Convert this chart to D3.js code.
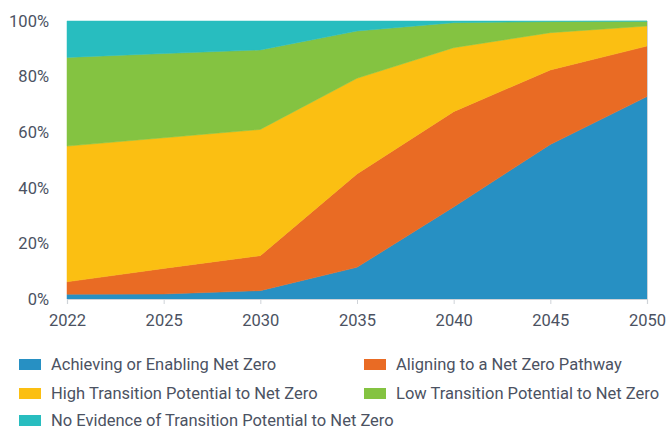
<!DOCTYPE html>
<html>
<head>
<meta charset="utf-8">
<script src="https://cdn.jsdelivr.net/npm/d3@7"></script>
<style>
  body { margin: 0; background: #fff; }
  #chart text { font-family: Roboto, "Open Sans", sans-serif; fill: #4b5262; }
</style>
</head>
<body>
<div id="chart"></div>
<script>
// Data (share of portfolio, %)
const years = ['2022', '2025', '2030', '2035', '2040', '2045', '2050'];
const achieving = [1.7, 1.8, 3.0, 11.4, 33.1, 55.6, 72.8];
const aligning = [4.5, 9.2, 12.6, 33.6, 34.3, 26.8, 18.2];
const highPotential = [48.8, 47.0, 45.4, 34.4, 23.0, 13.4, 7.2];
const lowPotential = [31.9, 30.3, 28.6, 17.0, 9.0, 4.0, 1.7];
const noEvidence = [13.1, 11.7, 10.4, 3.6, 0.6, 0.2, 0.1];
const yTicks = [0, 20, 40, 60, 80, 100];

const seriesNames = [
  'Achieving or Enabling Net Zero',
  'Aligning to a Net Zero Pathway',
  'High Transition Potential to Net Zero',
  'Low Transition Potential to Net Zero',
  'No Evidence of Transition Potential to Net Zero'
];
const seriesValues = [achieving, aligning, highPotential, lowPotential, noEvidence];
const colors = ['#2790c3', '#e96b24', '#fbbf12', '#84c341', '#28bdbf'];

const width = 666;
const height = 430;
const margin = { top: 21, right: 19, bottom: 131, left: 67 };
const graphWidth = width - margin.left - margin.right;
const graphHeight = height - margin.top - margin.bottom;

// Build rows for the stack
const table = years.map((y, i) => {
  const row = { year: y };
  seriesNames.forEach((n, k) => { row[n] = seriesValues[k][i]; });
  return row;
});

const stack = d3.stack().keys(seriesNames).offset(d3.stackOffsetExpand);
const layers = stack(table);

const xScale = d3.scalePoint().domain(years).range([0, graphWidth]);
const yScale = d3.scaleLinear().domain([0, 100]).range([graphHeight, 0]);

const svg = d3.select('#chart')
  .append('svg')
  .attr('width', width)
  .attr('height', height);

const g = svg.append('g')
  .attr('transform', `translate(${margin.left},${margin.top})`);

const area = d3.area()
  .x(d => xScale(d.data.year))
  .y0(d => yScale(d[0] * 100))
  .y1(d => yScale(d[1] * 100));

g.selectAll('.layer')
  .data(layers)
  .enter()
  .append('path')
  .attr('class', 'layer')
  .attr('d', area)
  .attr('fill', (d, i) => colors[i])
  .attr('stroke', (d, i) => colors[i])
  .attr('stroke-width', 0.5);

// right edge line
g.append('line')
  .attr('x1', xScale('2050') + 0.5)
  .attr('x2', xScale('2050') + 0.5)
  .attr('y1', 0)
  .attr('y2', graphHeight)
  .attr('stroke', '#cfd3d8')
  .attr('stroke-width', 1);

// x axis
const xAxis = g.append('g')
  .attr('transform', `translate(0,${graphHeight})`)
  .call(d3.axisBottom(xScale).tickSize(5).tickPadding(10));
xAxis.select('.domain').attr('stroke', '#cfd3d8').attr('stroke-width', 1.2);
xAxis.selectAll('.tick line').attr('stroke', '#cfd3d8');
xAxis.selectAll('.tick text').style('font-size', '16.5px');

// y axis
const yAxis = g.append('g')
  .call(d3.axisLeft(yScale).tickValues(yTicks).tickSize(0).tickPadding(18)
    .tickFormat(d => d + '%'));
yAxis.select('.domain').remove();
yAxis.selectAll('.tick text').style('font-size', '16.5px');

// legend
const legendPos = [
  { x: 19, y: 364 }, { x: 364, y: 364 },
  { x: 19, y: 393 }, { x: 364, y: 393 },
  { x: 19, y: 420 }
];
const legend = svg.selectAll('.legend')
  .data(seriesNames)
  .enter()
  .append('g')
  .attr('class', 'legend')
  .attr('transform', (d, i) => `translate(${legendPos[i].x},${legendPos[i].y})`);

legend.append('rect')
  .attr('x', 0)
  .attr('y', -5)
  .attr('width', 22)
  .attr('height', 11)
  .attr('fill', (d, i) => colors[i]);

legend.append('text')
  .attr('x', 32)
  .attr('y', 0)
  .attr('dy', '0.35em')
  .style('font-size', '16.5px')
  .text(d => d);
</script>
</body>
</html>
